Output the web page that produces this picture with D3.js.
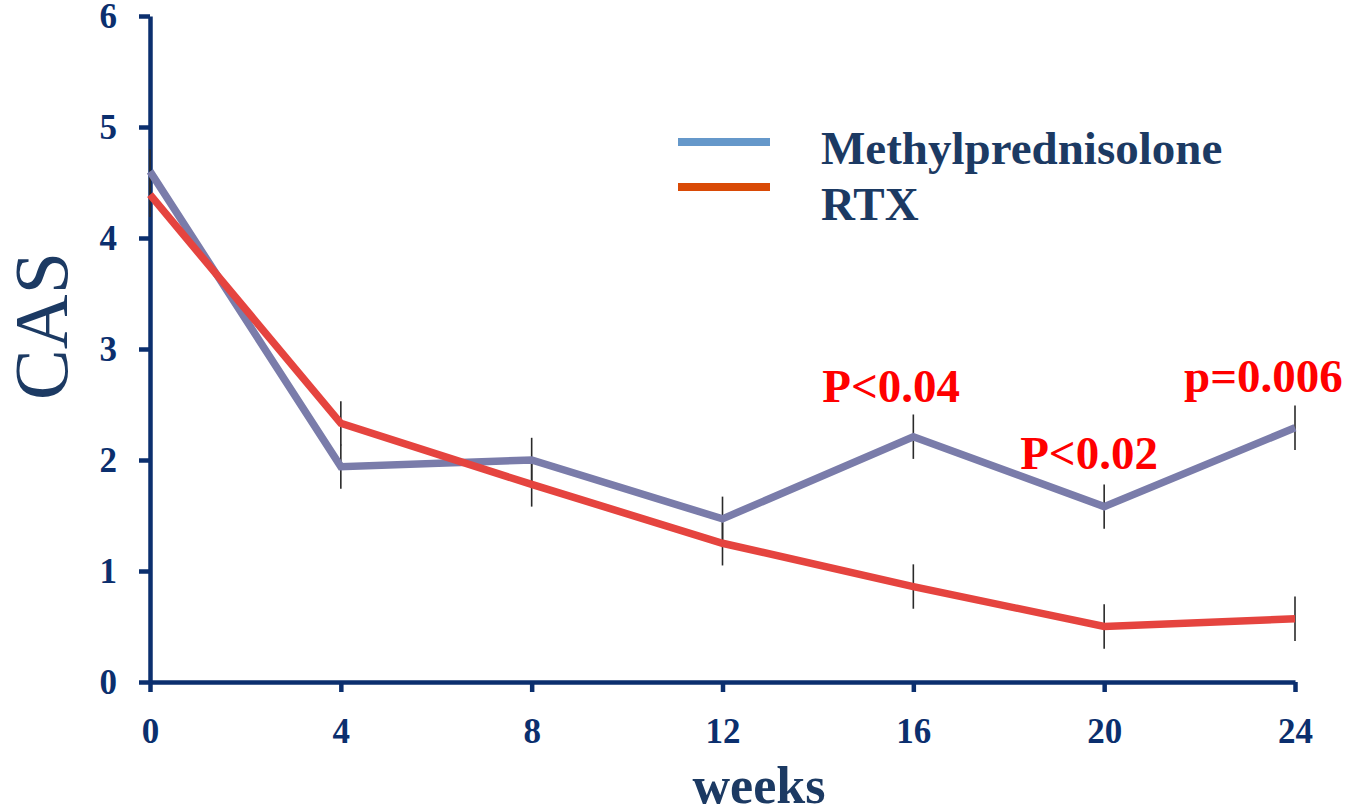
<!DOCTYPE html>
<html>
<head>
<meta charset="utf-8">
<script src="https://cdn.jsdelivr.net/npm/d3@7"></script>
<style>
  html, body { margin: 0; padding: 0; background: #ffffff; }
  svg { display: block; }
</style>
</head>
<body>
<svg id="chart" width="1350" height="810"></svg>
<script>
// Clinical Activity Score over 24 weeks, two treatment arms
const weeks = [0, 4, 8, 12, 16, 20, 24];
const methylprednisolone = [4.60, 1.94, 2.00, 1.47, 2.21, 1.58, 2.29];
const rtx = [4.39, 2.33, 1.78, 1.25, 0.86, 0.50, 0.57];
const methylErr = [0.2, 0.2, 0.2, 0.2, 0.2, 0.2, 0.2];
const rtxErr = [0.2, 0.2, 0.2, 0.2, 0.2, 0.2, 0.2];
const yTicks = [0, 1, 2, 3, 4, 5, 6];
const seriesNames = ["Methylprednisolone", "RTX"];
// significance labels: [week, anchor value, text]
const pLabels = [
  { week: 16, value: 2.21, text: "P<0.04" },
  { week: 20, value: 1.58, text: "P<0.02" },
  { week: 24, value: 2.29, text: "p=0.006" }
];

const navy = "#0b2f6e";
const textNavy = "#1c3a63";
const serif = "'Liberation Serif', 'Times New Roman', serif";

const svg = d3.select("#chart");

const x = d3.scaleLinear().domain([0, 24]).range([150, 1295]);
const y = d3.scaleLinear().domain([0, 6]).range([682, 16]);

// axes
const xAxis = d3.axisBottom(x).tickValues(weeks).tickFormat(d3.format("d"))
  .tickSize(10).tickSizeOuter(0).tickPadding(26);
const yAxis = d3.axisLeft(y).tickValues(yTicks).tickFormat(d3.format("d"))
  .tickSize(11).tickSizeOuter(0).tickPadding(22);

const gx = svg.append("g").attr("transform", `translate(0,${y(0)})`).call(xAxis);
const gy = svg.append("g").attr("transform", `translate(${x(0)},0)`).call(yAxis);

[gx, gy].forEach(g => {
  g.select(".domain").attr("stroke", navy).attr("stroke-width", 4.5);
  g.selectAll(".tick line").attr("stroke", navy).attr("stroke-width", 4.5);
  g.selectAll(".tick text")
    .attr("fill", navy)
    .style("font-family", serif)
    .style("font-weight", "bold")
    .style("font-size", "35px");
});

// error bars
function errorBars(values, errs) {
  svg.append("g").selectAll("line")
    .data(weeks.map((w, i) => ({ w, v: values[i], e: errs[i] })))
    .join("line")
    .attr("x1", d => x(d.w)).attr("x2", d => x(d.w))
    .attr("y1", d => y(d.v + d.e)).attr("y2", d => y(d.v - d.e))
    .attr("stroke", "#2a2a2a")
    .attr("stroke-width", 1.6);
}
errorBars(methylprednisolone, methylErr);
errorBars(rtx, rtxErr);

// series lines
const line = d3.line().x((d, i) => x(weeks[i])).y(d => y(d));
svg.append("path").datum(methylprednisolone)
  .attr("d", line).attr("fill", "none")
  .attr("stroke", "#7a7caa").attr("stroke-width", 7.5)
  .attr("stroke-linejoin", "miter");
svg.append("path").datum(rtx)
  .attr("d", line).attr("fill", "none")
  .attr("stroke", "#e5443f").attr("stroke-width", 7.5)
  .attr("stroke-linejoin", "miter");

// legend
const legendColors = ["#6598ca", "#d94a06"];
const legend = svg.append("g");
seriesNames.forEach((name, i) => {
  const cy = 142 + i * 45;
  legend.append("line")
    .attr("x1", 678).attr("x2", 770).attr("y1", cy).attr("y2", cy)
    .attr("stroke", legendColors[i]).attr("stroke-width", 8);
  legend.append("text")
    .attr("x", 821).attr("y", i === 0 ? 164 : 220)
    .attr("fill", textNavy)
    .style("font-family", serif).style("font-weight", "bold").style("font-size", "47px")
    .text(name);
});

// significance annotations
const pOffsets = { 16: [-91, -35], 20: [-84, -38], 24: [-111, -36] };
svg.append("g").selectAll("text")
  .data(pLabels)
  .join("text")
  .attr("x", d => x(d.week) + pOffsets[d.week][0])
  .attr("y", d => y(d.value) + pOffsets[d.week][1])
  .attr("fill", "#ff0000")
  .style("font-family", serif).style("font-weight", "bold").style("font-size", "47px")
  .text(d => d.text);

// axis titles
svg.append("text")
  .attr("x", 759).attr("y", 803)
  .attr("text-anchor", "middle")
  .attr("fill", textNavy)
  .style("font-family", serif).style("font-weight", "bold").style("font-size", "52px")
  .text("weeks");

svg.append("text")
  .attr("transform", "translate(67,326) rotate(-90)")
  .attr("text-anchor", "middle")
  .attr("fill", textNavy)
  .style("font-family", serif).style("font-size", "76px")
  .text("CAS");
</script>
</body>
</html>
